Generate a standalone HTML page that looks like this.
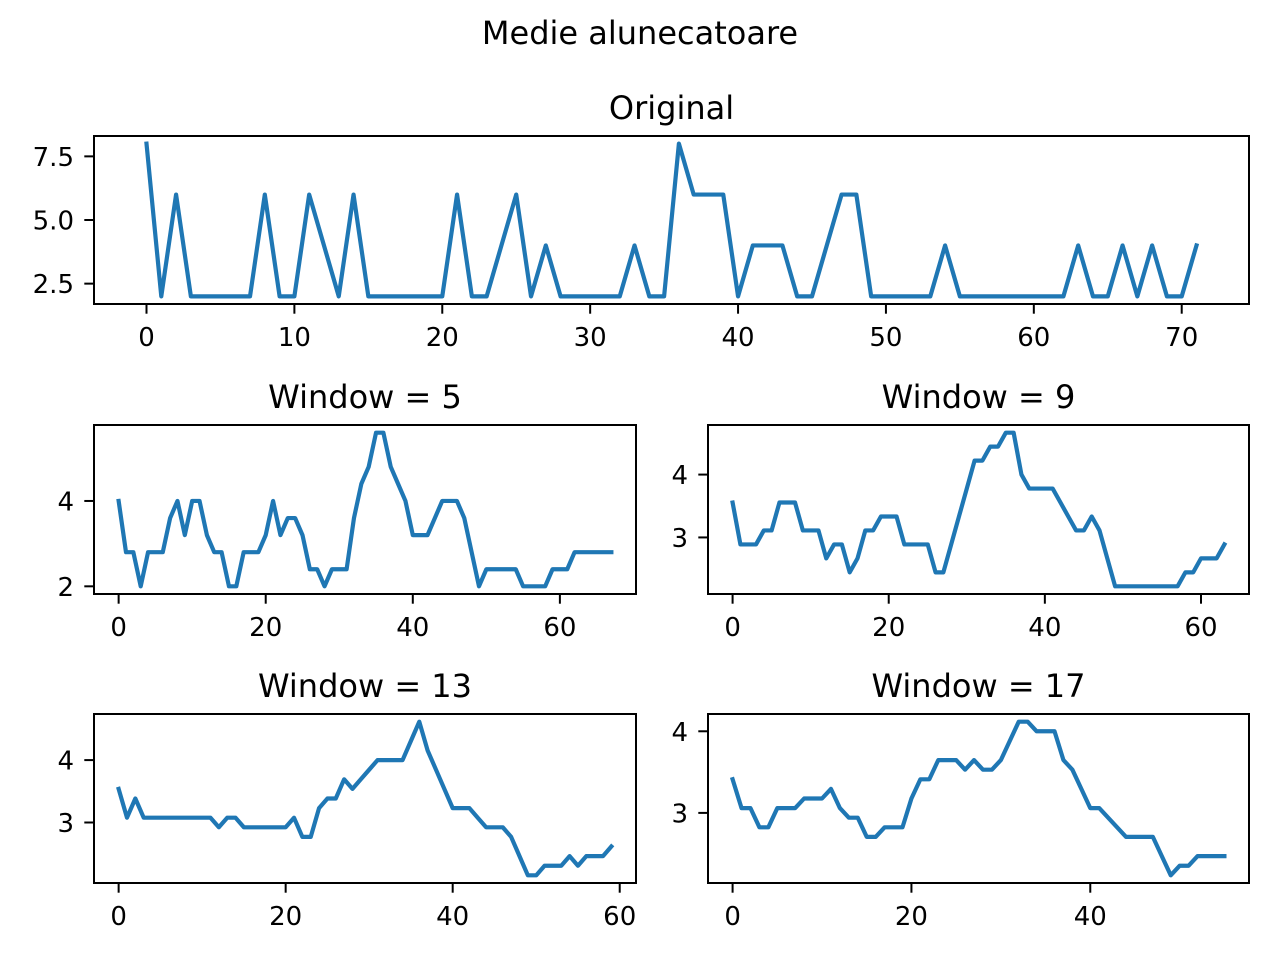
<!DOCTYPE html>
<html><head><meta charset="utf-8"><style>
html,body{margin:0;padding:0;background:#fff;}
svg text{font-family:"DejaVu Sans","Liberation Sans",sans-serif;fill:#000;}
</style></head><body>
<svg id="fig" width="1280" height="960" viewBox="0 0 1280 960" xmlns="http://www.w3.org/2000/svg">
<rect width="1280" height="960" fill="#fff"/>
<text x="640" y="44" font-size="32" text-anchor="middle">Medie alunecatoare</text>
</svg>
<script>
const original = [8,2,6,2,2,2,2,2,6,2,2,6,4,2,6,2,2,2,2,2,2,6,2,2,4,6,2,4,2,2,2,2,2,4,2,2,8,6,6,6,2,4,4,4,2,2,4,6,6,2,2,2,2,2,4,2,2,2,2,2,2,2,2,4,2,2,4,2,4,2,2,4];
const windows = [5, 9, 13, 17];
const xTicksTop = [0,10,20,30,40,50,60,70];
const yTicksTop = [2.5,5.0,7.5];
const xTicksW = [[0,20,40,60],[0,20,40,60],[0,20,40,60],[0,20,40]];
const yTicksW = [[2,4],[3,4],[3,4],[3,4]];

function movingAvg(a, w){const r=[];for(let i=0;i+w<=a.length;i++){let s=0;for(let j=i;j<i+w;j++)s+=a[j];r.push(s/w);}return r;}

const svg=document.getElementById('fig');
const NS='http://www.w3.org/2000/svg';
function mk(tag,attrs,parent){const e=document.createElementNS(NS,tag);for(const k in attrs)e.setAttribute(k,attrs[k]);(parent||svg).appendChild(e);return e;}

function panel(name,box,data,xt,yt,title,ylabFmt){
  const g=mk('g',{});
  
  
  const [L,R,T,B]=box;
  const n=data.length;
  const xmin=0,xmax=n-1,xm=(xmax-xmin)*0.05;
  const ymin=Math.min(...data),ymax=Math.max(...data),ym=(ymax-ymin)*0.05;
  const sx=v=>L+(v-(xmin-xm))/((xmax+xm)-(xmin-xm))*(R-L);
  const sy=v=>B-(v-(ymin-ym))/((ymax+ym)-(ymin-ym))*(B-T);
  let d='';data.forEach((v,i)=>{d+=(i?'L':'M')+sx(i).toFixed(2)+' '+sy(v).toFixed(2);});
  const line=mk('path',{d:d,fill:'none',stroke:'#1f77b4','stroke-width':4.2,'stroke-linejoin':'round','stroke-linecap':'square'},g);
  
  
  const fr=mk('rect',{x:L,y:T,width:R-L,height:B-T,fill:'none',stroke:'#000','stroke-width':2},g);
  
  
  xt.forEach(v=>{const x=sx(v);
    mk('line',{x1:x,x2:x,y1:B,y2:B+9.7,stroke:'#000','stroke-width':2},g);
    const t=mk('text',{x:x,y:B+42,'font-size':26,'text-anchor':'middle'},g);t.textContent=String(v);
    
    
  });
  yt.forEach(v=>{const y=sy(v);
    mk('line',{x1:L-9.7,x2:L,y1:y,y2:y,stroke:'#000','stroke-width':2},g);
    const t=mk('text',{x:L-20,y:y+9.5,'font-size':26,'text-anchor':'end'},g);t.textContent=ylabFmt(v);
    
    
  });
  const tt=mk('text',{x:(L+R)/2,y:T-17,'font-size':32,'text-anchor':'middle'},g);tt.textContent=title;
  
  
}

panel('original-panel',[94,1249,136,304],original,xTicksTop,yTicksTop,'Original',v=>v.toFixed(1));
const boxes=[[94,636,425,594],[708,1249,425,594],[94,636,714,883],[708,1249,714,883]];
windows.forEach((w,k)=>{
  panel('window-'+w+'-panel',boxes[k],movingAvg(original,w),xTicksW[k],yTicksW[k],'Window = '+w,v=>String(v));
});
</script>
</body></html>
